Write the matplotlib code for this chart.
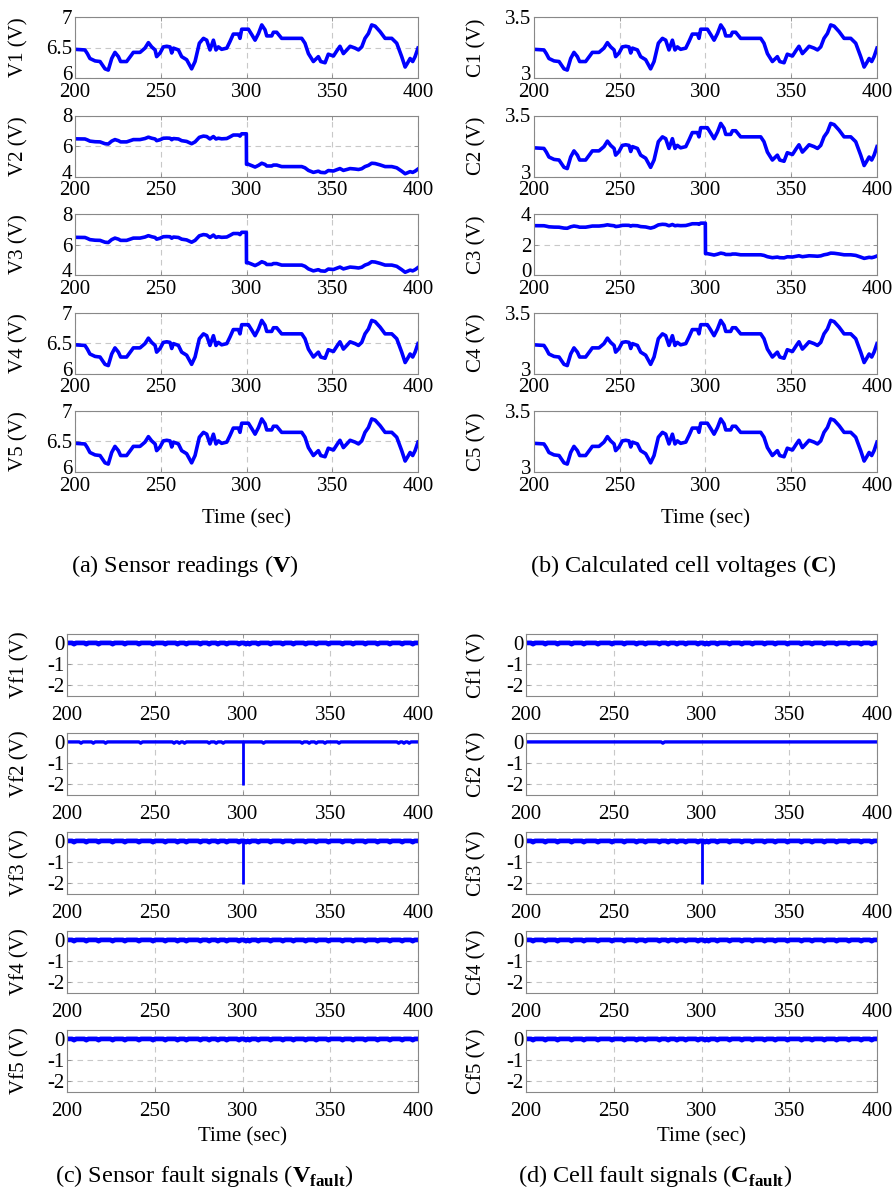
import numpy as np
import matplotlib
matplotlib.use("Agg")
import matplotlib.pyplot as plt
import matplotlib.transforms as mtransforms
from matplotlib.ticker import FormatStrFormatter

plt.rcParams['font.family'] = ['Liberation Serif', 'DejaVu Serif']
plt.rcParams['mathtext.fontset'] = 'custom'
plt.rcParams['mathtext.rm'] = 'Liberation Serif'
plt.rcParams['mathtext.bf'] = 'Liberation Serif:bold'

# time knots of the fault-free sensor reading (sec)
t = [200, 205.8, 207.2, 208.7, 211.7, 214.6, 217.5, 219.4, 221.4, 223.3,
     225.3, 226.6, 230.1, 233, 234, 237.9, 240.8, 242.8, 244.7, 246.7,
     247.6, 249.6, 251.5, 253.5, 255.4, 256.4, 257.4, 260.3, 262.2, 265.1,
     268, 270, 272.5, 274.9, 276.8, 278.7, 280.7, 282.2, 283.6, 285.5,
     288.5, 290.4, 292.3, 295.3, 296.2, 297.2, 299.9, 300, 301.1, 303.1,
     305, 307, 308.9, 310.8, 311.8, 314.7, 315.7, 317.6, 320.5, 332.2,
     334.1, 336.1, 339, 341.9, 343.3, 345.8, 347.7, 350.7, 353, 354.5,
     356.5, 358.5, 360.4, 363.3, 365.3, 367.2, 369.1, 371.1, 373, 375,
     377.9, 380.8, 384.7, 387.6, 390.5, 392.5, 393.8, 395.4, 396.9, 398.3,
     400]

# sensor reading without fault (V)
v_clean = [6.47, 6.46, 6.40, 6.32, 6.28, 6.27, 6.15, 6.13, 6.32, 6.42,
           6.35, 6.27, 6.27, 6.38, 6.42, 6.42, 6.49, 6.58, 6.51, 6.46,
           6.35, 6.41, 6.51, 6.52, 6.51, 6.41, 6.49, 6.46, 6.35, 6.30,
           6.15, 6.27, 6.57, 6.65, 6.62, 6.46, 6.62, 6.46, 6.51, 6.47,
           6.49, 6.60, 6.72, 6.72, 6.65, 6.80, 6.80, 6.80, 6.80, 6.71,
           6.62, 6.73, 6.87, 6.79, 6.69, 6.69, 6.75, 6.75, 6.65, 6.65,
           6.57, 6.40, 6.27, 6.35, 6.27, 6.25, 6.39, 6.36, 6.46, 6.52,
           6.40, 6.46, 6.52, 6.49, 6.46, 6.51, 6.65, 6.73, 6.87, 6.85,
           6.76, 6.65, 6.65, 6.57, 6.35, 6.18, 6.24, 6.32, 6.27, 6.35,
           6.49]

# cell voltage without fault (V)
c_clean = [3.235, 3.23, 3.20, 3.16, 3.14, 3.135, 3.075, 3.065, 3.16, 3.21,
           3.175, 3.135, 3.135, 3.19, 3.21, 3.21, 3.245, 3.29, 3.255, 3.23,
           3.175, 3.205, 3.255, 3.26, 3.255, 3.205, 3.245, 3.23, 3.175, 3.15,
           3.075, 3.135, 3.285, 3.325, 3.31, 3.23, 3.31, 3.23, 3.255, 3.235,
           3.245, 3.30, 3.36, 3.36, 3.325, 3.40, 3.40, 3.40, 3.40, 3.355,
           3.31, 3.365, 3.435, 3.395, 3.345, 3.345, 3.375, 3.375, 3.325, 3.325,
           3.285, 3.20, 3.135, 3.175, 3.135, 3.125, 3.195, 3.18, 3.23, 3.26,
           3.20, 3.23, 3.26, 3.245, 3.23, 3.255, 3.325, 3.365, 3.435, 3.425,
           3.38, 3.325, 3.325, 3.285, 3.175, 3.09, 3.12, 3.16, 3.135, 3.175,
           3.245]

# offset fault applied from t = 300 s
fault_start = 300
v_offsets = [0, -2, -2, 0, 0]
c_offsets = [0, 0, -2, 0, 0]

v_ylims = [(6, 7), (4, 8), (4, 8), (6, 7), (6, 7)]
v_yticks = [[6, 6.5, 7], [4, 6, 8], [4, 6, 8], [6, 6.5, 7], [6, 6.5, 7]]
c_ylims = [(3, 3.5), (3, 3.5), (0, 4), (3, 3.5), (3, 3.5)]
c_yticks = [[3, 3.5], [3, 3.5], [0, 2, 4], [3, 3.5], [3, 3.5]]

# fault signals: spike depth at fault time, and small dips seen on the trace
spike_depth = -2.05
vf_spike = [0, spike_depth, spike_depth, 0, 0]
cf_spike = [0, 0, spike_depth, 0, 0]
fuzzy_dips = [204, 211, 218, 226, 233, 241, 249, 256, 263, 268, 276, 281,
              286, 291, 298, 302, 304, 309, 316, 323, 329, 336, 342, 349,
              357, 363, 370, 377, 384, 391, 397]
vf2_dips = [208, 215, 222, 242, 261, 264, 267, 281, 285, 289, 312, 334,
            338, 342, 347, 355, 389, 392, 395]
cf2_dips = [278]
dip_depth = -0.06

BLUE = '#0000ff'
FIG_W, FIG_H = 893, 1188


def rect(left, bottom, width, height):
    return [left / FIG_W, 1 - bottom / FIG_H, width / FIG_W, height / FIG_H]


def style_axes(ax, label, label_x, pad):
    ax.set_xlim(200, 400)
    ax.set_xticks([200, 250, 300, 350, 400])
    ax.grid(True, linestyle=(0, (5, 4)), color='#c8c8c8', linewidth=0.8)
    ax.tick_params(direction='in', length=3, color='#888888', labelsize=15,
                   width=0.6, top=True, right=True)
    ax.tick_params(axis='x', pad=pad)
    ax.tick_params(axis='y', pad=2)
    for s in ax.spines.values():
        s.set_color('#888888')
        s.set_linewidth(0.8)
    ax.set_ylabel(label, fontsize=15)
    ax.yaxis.set_label_coords(label_x, 0.5)
    ax.yaxis.label.set_va('center')
    ax.yaxis.set_major_formatter(FormatStrFormatter('%g'))


def lift_bottom_label(ax, points=3.5):
    # the lowest y label sits a little above the axis line, clear of "200"
    lab = ax.yaxis.get_major_ticks()[0].label1
    lab.set_transform(lab.get_transform() +
                      mtransforms.ScaledTranslation(0, points / 72,
                                                    ax.figure.dpi_scale_trans))


def fault_trace(dips):
    times = np.array(sorted(set(list(np.arange(200, 401, 1.0)) + dips)))
    vals = np.zeros_like(times)
    for d in dips:
        vals[np.isclose(times, d)] = dip_depth
    return times, vals


fig = plt.figure(figsize=(FIG_W / 100, FIG_H / 100), dpi=100)
t_arr = np.array(t)
row_pitch_top = 98.5
row_pitch_bot = 99

# (a) sensor readings and (b) cell voltages
for i in range(5):
    bottom = 78 + i * row_pitch_top
    ax = fig.add_axes(rect(75, bottom, 343, 61))
    v = np.array(v_clean) + np.where(t_arr >= fault_start, v_offsets[i], 0)
    ax.plot(t_arr, v, color=BLUE, lw=2.6)
    ax.set_ylim(*v_ylims[i])
    ax.set_yticks(v_yticks[i])
    style_axes(ax, f'V{i + 1} (V)', -0.165, 3.5)
    lift_bottom_label(ax)
    if i == 4:
        ax.set_xlabel('Time (sec)', fontsize=15, labelpad=9.5)

    ax = fig.add_axes(rect(534, bottom, 343, 61))
    c = np.array(c_clean) + np.where(t_arr >= fault_start, c_offsets[i], 0)
    ax.plot(t_arr, c, color=BLUE, lw=2.6)
    ax.set_ylim(*c_ylims[i])
    ax.set_yticks(c_yticks[i])
    style_axes(ax, f'C{i + 1} (V)', -0.166, 3.5)
    lift_bottom_label(ax)
    if i == 4:
        ax.set_xlabel('Time (sec)', fontsize=15, labelpad=9.5)

# (c) sensor fault signals and (d) cell fault signals
for i in range(5):
    bottom = 696 + i * row_pitch_bot
    for left, spikes, name, lx in [(67, vf_spike, 'Vf', -0.135),
                                   (526, cf_spike, 'Cf', -0.14)]:
        ax = fig.add_axes(rect(left, bottom, 351, 62))
        if i == 1:
            dips = vf2_dips if name == 'Vf' else cf2_dips
            lw = 2.4
        else:
            dips = fuzzy_dips
            lw = 3.4
        tt, vv = fault_trace(dips)
        ax.plot(tt, vv, color=BLUE, lw=lw)
        if spikes[i] != 0:
            ax.plot([fault_start, fault_start], [0, spikes[i]], color=BLUE,
                    lw=2.0, solid_capstyle='butt')
        ax.set_ylim(-2.5, 0.42)
        ax.set_yticks([0, -1, -2])
        style_axes(ax, f'{name}{i + 1} (V)', lx, 7)
        if i == 4:
            ax.set_xlabel('Time (sec)', fontsize=15, labelpad=5)

captions = [
    (185, 566, r'(a) Sensor readings ($\mathbf{V}$)'),
    (683, 566, r'(b) Calculated cell voltages ($\mathbf{C}$)'),
    (204, 1176, r'(c) Sensor fault signals ($\mathbf{V}_{\mathbf{fault}}$)'),
    (655, 1176, r'(d) Cell fault signals ($\mathbf{C}_{\mathbf{fault}}$)'),
]
for x, y, s in captions:
    fig.text(x / FIG_W, 1 - y / FIG_H, s, ha='center', va='center',
             fontsize=17.5)

fig.savefig('out.png', dpi=100)
